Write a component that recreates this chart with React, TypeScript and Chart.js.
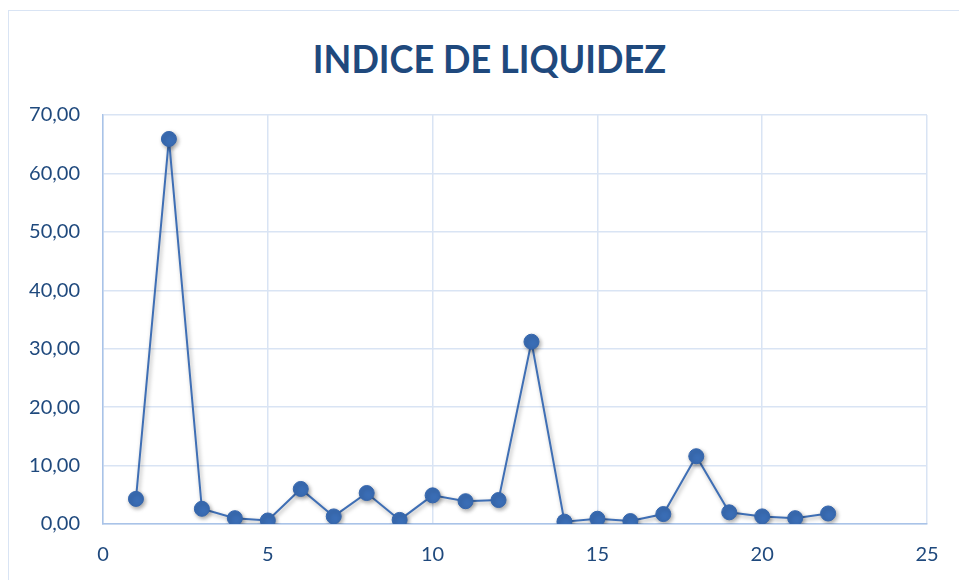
import React, { useEffect, useRef } from "react";
import { Chart, registerables } from "chart.js";

Chart.register(...registerables);

const TITLE = "INDICE DE LIQUIDEZ";
const xValues = [1, 2, 3, 4, 5, 6, 7, 8, 9, 10, 11, 12, 13, 14, 15, 16, 17, 18, 19, 20, 21, 22];
const yValues = [4.3, 65.9, 2.6, 1.0, 0.6, 6.0, 1.3, 5.3, 0.7, 4.9, 3.9, 4.1, 31.2, 0.4, 0.9, 0.5, 1.7, 11.6, 2.0, 1.3, 1.0, 1.8];
const xMin = 0, xMax = 25, xStep = 5;
const yMin = 0, yMax = 70, yStep = 10;

const TEXT_COLOR = "#1f497d";
const GRID_COLOR = "#d9e4f4";
const AXIS_COLOR = "#a9c3e8";
const LINE_COLOR = "#3f6fb5";
const POINT_COLOR = "#3a6db5";

const shadowPlugin = {
  id: "pointShadow",
  beforeDatasetDraw(chart: any) {
    const ctx = chart.ctx;
    ctx.save();
    ctx.shadowColor = "rgba(0,0,0,0.35)";
    ctx.shadowBlur = 4;
    ctx.shadowOffsetX = 1.5;
    ctx.shadowOffsetY = 2;
  },
  afterDatasetDraw(chart: any) {
    chart.ctx.restore();
  },
};

export default function App() {
  const ref = useRef<HTMLCanvasElement | null>(null);
  useEffect(() => {
    if (!ref.current) return;
    const data = xValues.map((x, i) => ({ x, y: yValues[i] }));
    const chart = new Chart(ref.current, {
      type: "scatter",
      data: {
        datasets: [
          {
            data,
            showLine: true,
            borderColor: LINE_COLOR,
            borderWidth: 2,
            backgroundColor: POINT_COLOR,
            pointBackgroundColor: POINT_COLOR,
            pointBorderColor: "#3566ad",
            pointBorderWidth: 1,
            pointRadius: 7.5,
            tension: 0,
          },
        ],
      },
      options: {
        animation: false,
        responsive: false,
        maintainAspectRatio: false,
        layout: { padding: { top: 115, right: 32, left: 0, bottom: 0 } },
        plugins: { legend: { display: false }, title: { display: false }, tooltip: { enabled: false } },
        scales: {
          x: {
            type: "linear",
            min: xMin,
            max: xMax,
            ticks: { stepSize: xStep, color: TEXT_COLOR, font: { family: "Lato", size: 20 }, padding: 19 },
            grid: { color: GRID_COLOR, lineWidth: 1.5, drawTicks: false },
            border: { color: AXIS_COLOR, width: 1.5 },
            afterFit: (s: any) => { s.height = 56; },
          },
          y: {
            type: "linear",
            min: yMin,
            max: yMax,
            ticks: {
              stepSize: yStep,
              color: TEXT_COLOR,
              font: { family: "Lato", size: 20 },
              padding: 23,
              callback: (v: any) => Number(v).toFixed(2).replace(".", ","),
            },
            grid: { color: GRID_COLOR, lineWidth: 1.5, drawTicks: false },
            border: { color: AXIS_COLOR, width: 1.5 },
            afterFit: (s: any) => { s.width = 103; },
          },
        },
      },
      plugins: [shadowPlugin],
    });
    return () => chart.destroy();
  }, []);

  return (
    <div style={{ position: "fixed", left: 0, top: 0, width: 959, height: 580, overflow: "hidden", background: "#fff" }}>
      <div style={{ position: "absolute", left: 8, top: 10, width: 1100, height: 800, border: "1.5px solid #d9e4f4" }} />
      <div
        style={{
          position: "absolute",
          left: 0,
          width: 979,
          top: 34,
          textAlign: "center",
          fontFamily: "Lato",
          fontWeight: 700,
          fontSize: 38,
          color: TEXT_COLOR,
          lineHeight: "48px",
          transform: "scaleX(0.95)",
        }}
      >
        {TITLE}
      </div>
      <canvas ref={ref} width={959} height={580} style={{ position: "absolute", left: 0, top: 0, width: 959, height: 580 }} />
    </div>
  );
}
